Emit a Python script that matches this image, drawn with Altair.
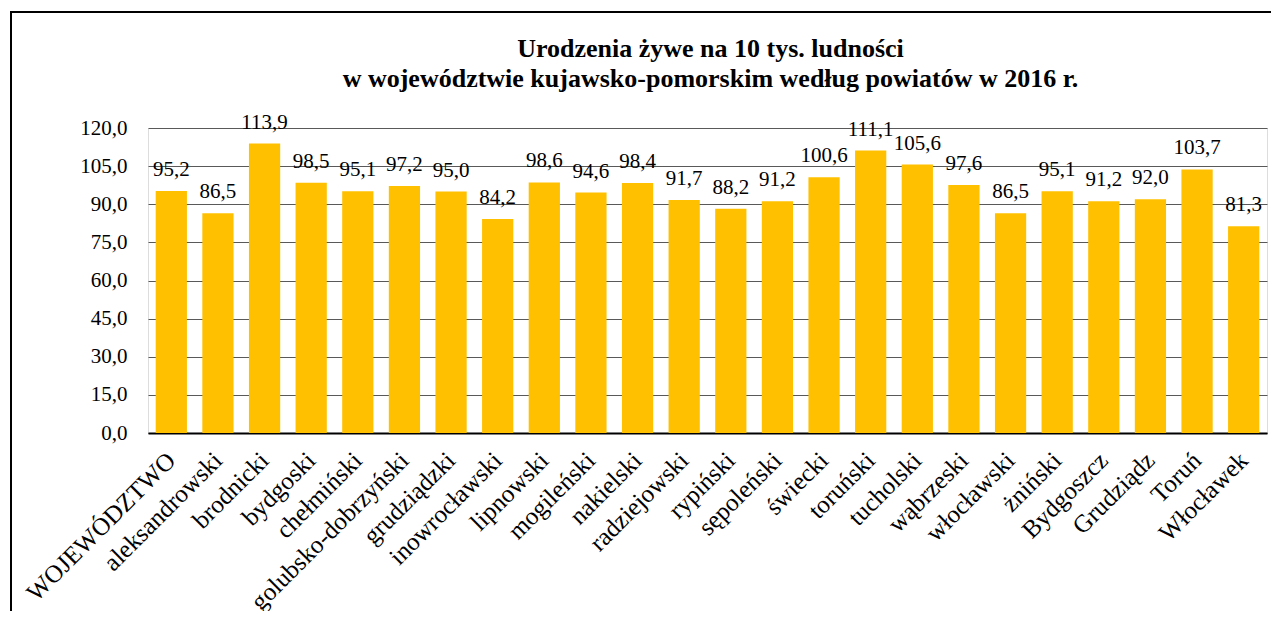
import altair as alt
import pandas as pd

categories = ["WOJEWÓDZTWO", "aleksandrowski", "brodnicki", "bydgoski", "chełmiński",
              "golubsko-dobrzyński", "grudziądzki", "inowrocławski", "lipnowski", "mogileński",
              "nakielski", "radziejowski", "rypiński", "sępoleński", "świecki", "toruński",
              "tucholski", "wąbrzeski", "włocławski", "żniński", "Bydgoszcz", "Grudziądz",
              "Toruń", "Włocławek"]
values = [95.2, 86.5, 113.9, 98.5, 95.1, 97.2, 95.0, 84.2, 98.6, 94.6, 98.4, 91.7,
          88.2, 91.2, 100.6, 111.1, 105.6, 97.6, 86.5, 95.1, 91.2, 92.0, 103.7, 81.3]
y_ticks = [0, 15, 30, 45, 60, 75, 90, 105, 120]
title_lines = ["Urodzenia żywe na 10 tys. ludności",
               "w województwie kujawsko-pomorskim według powiatów w 2016 r."]

W, H = 1119, 305
FONT = "Liberation Serif"

df = pd.DataFrame({"cat": categories, "val": values})

base = alt.Chart(df).encode(
    x=alt.X("cat:N", sort=categories,
            scale=alt.Scale(paddingInner=0.33, paddingOuter=0.165),
            axis=alt.Axis(title=None, labelAngle=-45, labelAlign="right", labelBaseline="middle",
                          labelFont=FONT, labelFontSize=25, labelColor="black",
                          labelPadding=23, ticks=False, domainColor="black", domainWidth=2,
                          labelLimit=400, labelOverlap=False)),
    y=alt.Y("val:Q", scale=alt.Scale(domain=[0, 120], nice=False),
            axis=alt.Axis(title=None, values=y_ticks, grid=True, gridColor="#595959",
                          gridWidth=1, domain=False, ticks=False, labelOverlap=False,
                          labelExpr="replace(format(datum.value, '.1f'), '.', ',')",
                          labelFont=FONT, labelFontSize=21, labelColor="black",
                          labelPadding=21)),
)

bars = base.mark_bar(color="#FFC000")

labels = base.transform_calculate(
    lab="replace(format(datum.val, '.1f'), '.', ',')"
).mark_text(font=FONT, fontSize=21, color="black", baseline="alphabetic", dy=-15).encode(
    text="lab:N"
)

title = alt.layer(
    alt.Chart(pd.DataFrame({"t": [title_lines[0]]})).mark_text(
        font=FONT, fontSize=26, fontWeight="bold", color="black", baseline="alphabetic").encode(
        x=alt.value(W / 2 + 3), y=alt.value(-71), text="t:N"),
    alt.Chart(pd.DataFrame({"t": [title_lines[1]]})).mark_text(
        font=FONT, fontSize=26, fontWeight="bold", color="black", baseline="alphabetic").encode(
        x=alt.value(W / 2 + 3), y=alt.value(-41), text="t:N"),
)

frame_left = alt.Chart(pd.DataFrame({"a": [0]})).mark_rule(color="black", strokeWidth=2).encode(
    x=alt.value(-137), y=alt.value(-116), y2=alt.value(500)
)
frame_top = alt.Chart(pd.DataFrame({"a": [0]})).mark_rule(color="black", strokeWidth=2).encode(
    x=alt.value(-138), x2=alt.value(1200), y=alt.value(-116)
)

chart = alt.layer(bars, labels, title, frame_left, frame_top).properties(
    width=W, height=H,
    autosize=alt.AutoSizeParams(type="none"),
    padding={"left": 140, "top": 120, "right": 4, "bottom": 178},
).configure_view(stroke=None).configure(background="white")

chart.save("out.html", embed_options={"renderer": "svg", "actions": False})
